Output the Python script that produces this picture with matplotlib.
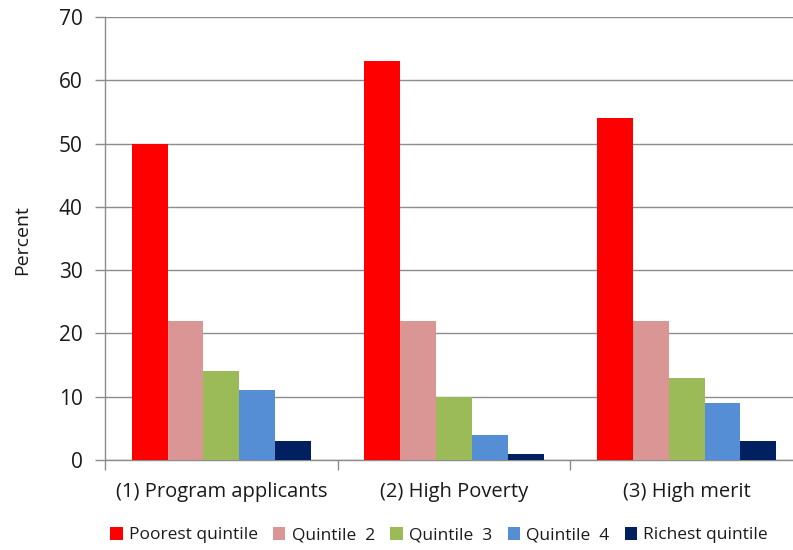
import matplotlib
matplotlib.use("Agg")
import matplotlib.pyplot as plt
import numpy as np
from matplotlib.patches import Patch

plt.rcParams['font.family'] = ['Open Sans', 'DejaVu Sans']

categories = ["(1) Program applicants", "(2) High Poverty", "(3) High merit"]
series_names = ["Poorest quintile", "Quintile  2", "Quintile  3", "Quintile  4", "Richest quintile"]
poorest = [50, 63, 54]
quintile2 = [22, 22, 22]
quintile3 = [14, 10, 13]
quintile4 = [11, 4, 9]
richest = [3, 1, 3]
colors = ["#FF0000", "#D99694", "#9BBB59", "#558ED5", "#002060"]
yticks = [0, 10, 20, 30, 40, 50, 60, 70]

W, H = 793, 550
fig = plt.figure(figsize=(W / 100, H / 100), dpi=100)
ax = fig.add_axes([105 / W, 90 / H, (803 - 105) / W, (460 - 17) / H])

series = [poorest, quintile2, quintile3, quintile4, richest]
x = np.arange(len(categories))
bw = 0.154
for i, (vals, col) in enumerate(zip(series, colors)):
    ax.bar(x + (i - 2) * bw, vals, width=bw, color=col, edgecolor='none', zorder=3)

ax.set_xlim(-0.5, len(categories) - 0.5)
ax.set_ylim(0, 70)
ax.set_yticks(yticks)
ax.yaxis.grid(True, color='#8c8c8c', linewidth=1.0, zorder=0)
ax.set_axisbelow(True)

ax.set_xticks(x)
ax.set_xticklabels(categories, fontsize=14.5, color='#1a1a1a')
ax.tick_params(axis='x', which='major', length=0, pad=16)
ax.set_xticks(np.arange(len(categories) + 1) - 0.5, minor=True)
ax.tick_params(axis='x', which='minor', length=7, color='#8c8c8c', width=1)
ax.tick_params(axis='y', length=7, color='#8c8c8c', width=1, labelsize=15,
               labelcolor='#1a1a1a', pad=9)

for s in ['top', 'right']:
    ax.spines[s].set_visible(False)
for s in ['left', 'bottom']:
    ax.spines[s].set_color('#8c8c8c')
    ax.spines[s].set_linewidth(1)

fig.text(22 / W, 1 - 240 / H, "Percent", rotation=90, va='center', ha='center',
         fontsize=14, color='#1a1a1a')

handles = [Patch(facecolor=c, edgecolor='none') for c in colors]
fig.legend(handles, series_names, loc='center', bbox_to_anchor=(439 / W, 1 - 535 / H),
           ncol=5, frameon=False, fontsize=12.5, handlelength=0.7, handleheight=0.8,
           handletextpad=0.35, columnspacing=0.9, labelcolor='#1a1a1a')

fig.savefig("out.png", dpi=100)
